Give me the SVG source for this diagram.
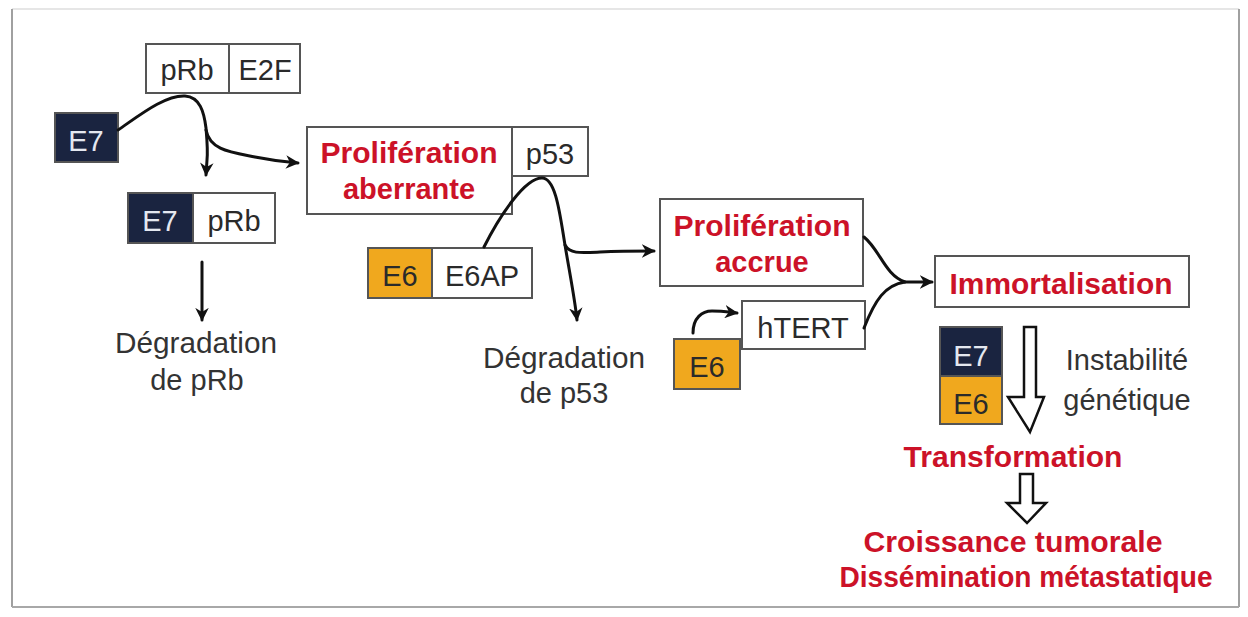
<svg xmlns="http://www.w3.org/2000/svg" width="1248" height="617" viewBox="0 0 1248 617">
  <defs>
    <style>
      .box { fill: #ffffff; stroke: #555555; stroke-width: 2; }
      .navy { fill: #1a2440; stroke: #555555; stroke-width: 2; }
      .orange { fill: #f0a81e; stroke: #555555; stroke-width: 2; }
      .lbl { font-family: "Liberation Sans", Arial, sans-serif; font-size: 29px; fill: #2a2a2a; text-anchor: middle; }
      .lbl-light { font-family: "Liberation Sans", Arial, sans-serif; font-size: 29px; fill: #e4e8f0; text-anchor: middle; }
      .red { font-family: "Liberation Sans", Arial, sans-serif; font-size: 29px; font-weight: bold; fill: #cc1228; text-anchor: middle; }
      .note { font-family: "Liberation Sans", Arial, sans-serif; font-size: 29px; fill: #333333; text-anchor: middle; }
      .link { fill: none; stroke: #111111; stroke-width: 3; stroke-linecap: round; }
      .hollow { fill: #ffffff; stroke: #111111; stroke-width: 2.5; stroke-linejoin: miter; }
    </style>
    <marker id="head" viewBox="0 0 10 10" refX="9" refY="5" markerWidth="4.5" markerHeight="4.5" orient="auto" markerUnits="strokeWidth">
      <path d="M0,0 L10,5 L0,10 L3,5 Z" fill="#111111"/>
    </marker>
  </defs>

  <!-- page frame -->
  <rect x="0" y="0" width="1248" height="617" fill="#ffffff"/>
  <line x1="12" y1="9" x2="1239" y2="9" stroke="#e6e6e6" stroke-width="2"/>
  <line x1="12" y1="9" x2="12" y2="607" stroke="#a0a0a0" stroke-width="2"/>
  <line x1="1239" y1="9" x2="1239" y2="607" stroke="#a0a0a0" stroke-width="2"/>
  <line x1="12" y1="607" x2="1239" y2="607" stroke="#a8a8a8" stroke-width="2"/>

  <!-- pRb / E2F complex -->
  <g id="prb-e2f">
    <rect class="box" x="146" y="44" width="83" height="49"/>
    <rect class="box" x="229" y="44" width="71" height="49"/>
    <text class="lbl" x="187" y="80">pRb</text>
    <text class="lbl" x="265" y="80">E2F</text>
  </g>

  <g id="e7-a">
    <rect class="navy" x="55" y="113" width="63" height="49"/>
    <text class="lbl-light" x="86" y="151">E7</text>
  </g>

  <g id="e7-prb">
    <rect class="navy" x="128" y="193" width="65" height="50"/>
    <rect class="box" x="193" y="193" width="82" height="50"/>
    <text class="lbl-light" x="160" y="231">E7</text>
    <text class="lbl" x="234" y="231">pRb</text>
  </g>

  <g id="degr-prb">
    <text class="note" x="196" y="353" textLength="162" lengthAdjust="spacingAndGlyphs">Dégradation</text>
    <text class="note" x="197" y="390">de pRb</text>
  </g>

  <g id="prolif-aberrante">
    <rect class="box" x="307" y="127" width="205" height="87"/>
    <text class="red" x="409" y="163" textLength="177" lengthAdjust="spacingAndGlyphs">Prolifération</text>
    <text class="red" x="409" y="199">aberrante</text>
  </g>

  <g id="p53">
    <rect class="box" x="512" y="127" width="76" height="49"/>
    <text class="lbl" x="550" y="164">p53</text>
  </g>

  <g id="e6-e6ap">
    <rect class="orange" x="368" y="248" width="64" height="50"/>
    <rect class="box" x="432" y="248" width="100" height="50"/>
    <text class="lbl" x="400" y="286">E6</text>
    <text class="lbl" x="482" y="286">E6AP</text>
  </g>

  <g id="degr-p53">
    <text class="note" x="564" y="368" textLength="162" lengthAdjust="spacingAndGlyphs">Dégradation</text>
    <text class="note" x="564" y="403">de p53</text>
  </g>

  <g id="prolif-accrue">
    <rect class="box" x="660" y="199" width="203" height="87"/>
    <text class="red" x="762" y="236" textLength="177" lengthAdjust="spacingAndGlyphs">Prolifération</text>
    <text class="red" x="762" y="272">accrue</text>
  </g>

  <g id="htert">
    <rect class="box" x="742" y="301" width="123" height="48"/>
    <text class="lbl" x="803" y="338">hTERT</text>
  </g>

  <g id="e6-b">
    <rect class="orange" x="674" y="339" width="66" height="50"/>
    <text class="lbl" x="707" y="377">E6</text>
  </g>

  <g id="immortalisation">
    <rect class="box" x="935" y="256" width="254" height="51"/>
    <text class="red" x="1061" y="294" textLength="223" lengthAdjust="spacingAndGlyphs">Immortalisation</text>
  </g>

  <g id="e7-e6">
    <rect class="navy" x="940" y="327" width="62" height="49"/>
    <rect class="orange" x="940" y="376" width="62" height="48"/>
    <text class="lbl-light" x="971" y="366">E7</text>
    <text class="lbl" x="971" y="414">E6</text>
  </g>

  <g id="instabilite">
    <text class="note" x="1127" y="370">Instabilité</text>
    <text class="note" x="1127" y="410">génétique</text>
  </g>

  <g id="transformation">
    <text class="red" x="1013" y="467" textLength="219" lengthAdjust="spacingAndGlyphs">Transformation</text>
  </g>

  <g id="croissance">
    <text class="red" x="1013" y="552" textLength="299" lengthAdjust="spacingAndGlyphs">Croissance tumorale</text>
    <text class="red" x="1026" y="587" textLength="373" lengthAdjust="spacingAndGlyphs">Dissémination métastatique</text>
  </g>

  <!-- connectors -->
  <g id="connectors">
    <!-- E7 binds pRb, releasing E2F -->
    <path class="link" d="M118,130 C140,115 165,95 185,96 C200,97 204,112 206,128 C207,140 208,150 207,160 L206,175" marker-end="url(#head)"/>
    <path class="link" d="M206,130 C210,150 230,152 255,157 C275,161 285,162 298,163" marker-end="url(#head)"/>
    <line class="link" x1="202" y1="262" x2="202" y2="320" marker-end="url(#head)"/>
    <!-- E6/E6AP targets p53 -->
    <path class="link" d="M484,247 C500,215 525,178 542,178 C556,178 560,215 565,245 C570,275 575,300 577,320" marker-end="url(#head)"/>
    <path class="link" d="M565,245 C570,254 580,253 600,252 C620,251 635,251 654,251" marker-end="url(#head)"/>
    <!-- convergence towards immortalisation -->
    <path class="link" d="M864,237 C880,250 885,275 905,282" />
    <path class="link" d="M864,328 C875,300 885,285 905,282 L932,282" marker-end="url(#head)"/>
    <!-- E6 activates hTERT -->
    <path class="link" d="M693,333 C693,318 702,311 712,311 C722,311 728,312 737,313" marker-end="url(#head)"/>
    <!-- hollow arrows -->
    <path class="hollow" d="M1024,327 L1036,327 L1036,397 L1044,397 L1030,432 L1008,397 L1024,397 Z"/>
    <path class="hollow" d="M1020,474 L1033,474 L1033,503 L1046,503 L1027,523 L1007,503 L1020,503 Z"/>
  </g>
</svg>
